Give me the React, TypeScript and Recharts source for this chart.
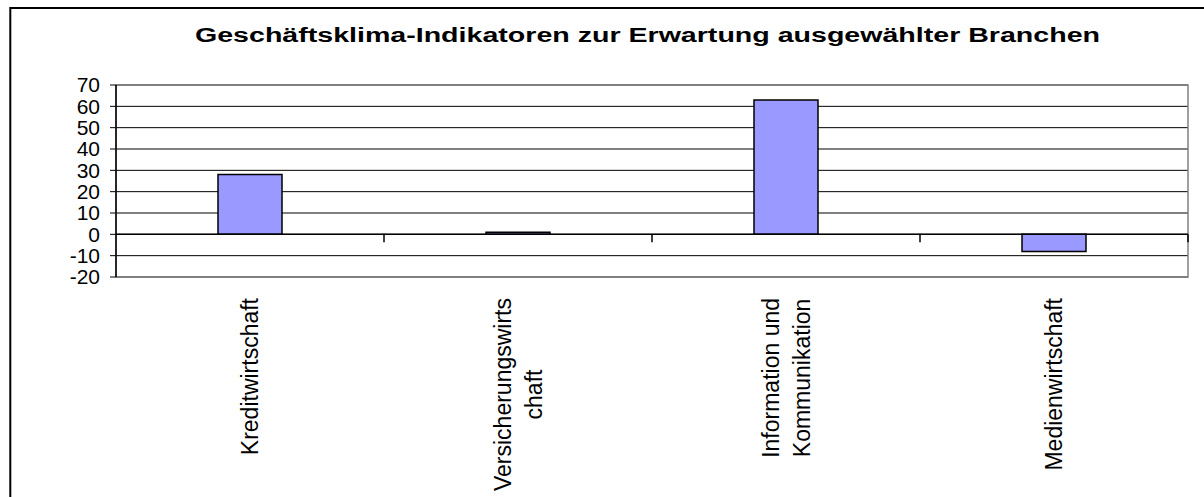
import React from 'react';
import { BarChart, Bar, XAxis, YAxis, CartesianGrid, ReferenceLine, ReferenceArea } from 'recharts';

const title = 'Geschäftsklima-Indikatoren zur Erwartung ausgewählter Branchen';
const categories = ['Kreditwirtschaft', 'Versicherungswirtschaft', 'Information und Kommunikation', 'Medienwirtschaft'];
const categoryLabelLines = [
  ['Kreditwirtschaft'],
  ['Versicherungswirts', 'chaft'],
  ['Information und', 'Kommunikation'],
  ['Medienwirtschaft'],
];
const values = [28, 1, 63, -8];
const yTicks = [-20, -10, 0, 10, 20, 30, 40, 50, 60, 70];

const data = categories.map((c, i) => ({ name: c, value: values[i] }));

const FONT = "'Liberation Sans', Arial, sans-serif";
const FS = 21;
const LFS = 23;

let canvasCtx: CanvasRenderingContext2D | null = null;
function measure(text: string): number {
  if (!canvasCtx) {
    const c = document.createElement('canvas');
    canvasCtx = c.getContext('2d');
  }
  if (!canvasCtx) return text.length * LFS * 0.5;
  canvasCtx.font = `${LFS}px ${FONT}`;
  return canvasCtx.measureText(text).width;
}

const CategoryTick = (props: any) => {
  const { x, y, payload, index } = props;
  const idx = typeof index === 'number' ? index : categories.indexOf(payload.value);
  const lines = categoryLabelLines[idx] || [String(payload.value)];
  const L = Math.max(...lines.map(measure));
  const spacing = 31;
  const n = lines.length;
  return (
    <g transform={`translate(${x},${y}) rotate(-90)`}>
      {lines.map((ln, i) => (
        <text
          key={i}
          x={-L / 2}
          y={(i - (n - 1) / 2) * spacing + LFS * 0.35}
          textAnchor="middle"
          fontFamily={FONT}
          fontSize={LFS}
          fill="#000"
        >
          {ln}
        </text>
      ))}
    </g>
  );
};

const ZeroAxis = (props: any) => {
  const { x1, y1, x2, y2 } = props;
  const n = categories.length;
  const ticks = [];
  for (let i = 1; i <= n; i++) {
    const tx = x1 + ((x2 - x1) * i) / n;
    ticks.push(<line key={i} x1={tx} y1={y1} x2={tx} y2={y1 + 8} stroke="#000" strokeWidth={1.5} />);
  }
  return (
    <g>
      <line x1={x1} y1={y1} x2={x2} y2={y2} stroke="#000" strokeWidth={1.5} />
      {ticks}
    </g>
  );
};

export default function App() {
  return (
    <div style={{ position: 'absolute', left: 0, top: 0, width: 1204, height: 497, background: '#fff', overflow: 'hidden' }}>
      <BarChart
        width={1204}
        height={497}
        data={data}
        margin={{ top: 85, right: 16, bottom: 0, left: 0 }}
        barSize={64}
      >
        <CartesianGrid vertical={false} stroke="#000" strokeWidth={1} />
        <XAxis
          dataKey="name"
          height={220}
          axisLine={false}
          tickLine={false}
          tickSize={0}
          tickMargin={21}
          interval={0}
          tick={<CategoryTick />}
        />
        <YAxis
          width={116}
          domain={[-20, 70]}
          ticks={yTicks}
          interval={0}
          axisLine={{ stroke: '#000', strokeWidth: 1.5 }}
          tickLine={{ stroke: '#000', strokeWidth: 1 }}
          tickSize={6}
          tickMargin={10}
          tick={{ fill: '#000', fontSize: FS, fontFamily: FONT }}
        />
        <ReferenceArea y1={-20} y2={70} fill="none" stroke="#808080" strokeWidth={1.5} ifOverflow="visible" />
        <Bar dataKey="value" fill="#9999FF" stroke="#000" strokeWidth={1.5} isAnimationActive={false} />
        <ReferenceLine y={0} shape={<ZeroAxis />} />
      </BarChart>
      <svg width={1204} height={497} style={{ position: 'absolute', left: 0, top: 0, pointerEvents: 'none' }}>
        <path d="M10.3,497 L10.3,8 L1204,8" fill="none" stroke="#000" strokeWidth={2} />
        <text
          x={195}
          y={42}
          textAnchor="start"
          textLength={905}
          lengthAdjust="spacingAndGlyphs"
          fontFamily={FONT}
          fontWeight="bold"
          fontSize={20}
          fill="#000"
        >
          {title}
        </text>
      </svg>
    </div>
  );
}
